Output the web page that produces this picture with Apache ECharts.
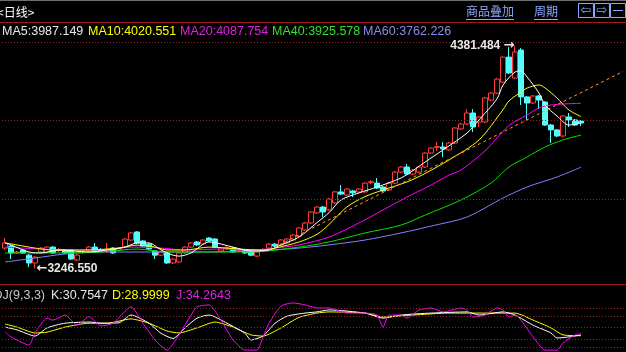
<!DOCTYPE html>
<html>
<head>
<meta charset="utf-8">
<script src="https://cdn.jsdelivr.net/npm/echarts@6/dist/echarts.min.js"></script>
<style>html,body{margin:0;padding:0;background:#000}#main{width:626px;height:352px}</style>
</head>
<body>
<div id="main"></div>
<script>
// daily candles: [open, close, low, high]
const candles = [
  [3350,3376,3340,3401],[3360,3325,3294,3365],[3325,3330,3320,3335],[3340,3325,3320,3345],
  [3314,3274,3253,3320],[3274,3304,3246.55,3309],[3330,3350,3325,3355],[3330,3355,3325,3360],
  [3355,3325,3320,3360],[3338,3342,3330,3350],[3340,3325,3320,3345],[3340,3294,3289,3345],
  [3289,3314,3284,3320],[3328,3332,3320,3340],[3335,3355,3330,3360],[3355,3330,3325,3376],
  [3342,3336,3330,3350],[3338,3342,3325,3376],[3350,3325,3320,3355],[3340,3350,3335,3355],
  [3355,3396,3350,3401],[3391,3427,3386,3432],[3432,3376,3370,3437],[3386,3360,3355,3391],
  [3370,3345,3340,3376],[3335,3314,3294,3340],[3314,3330,3309,3335],[3325,3274,3269,3330],
  [3274,3294,3269,3299],[3279,3325,3274,3330],[3325,3355,3320,3360],[3355,3376,3350,3381],
  [3381,3366,3360,3386],[3371,3391,3365,3396],[3401,3386,3381,3406],[3396,3355,3350,3401],
  [3335,3350,3330,3355],[3348,3352,3340,3360],[3350,3330,3325,3355],[3338,3342,3330,3348],
  [3340,3325,3320,3345],[3335,3314,3309,3340],[3309,3330,3304,3335],[3336,3342,3330,3350],
  [3350,3370,3345,3376],[3370,3360,3355,3376],[3365,3391,3360,3396],[3376,3396,3370,3401],
  [3391,3416,3386,3421],[3411,3452,3406,3457],[3442,3478,3437,3483],[3478,3534,3472,3539],
  [3529,3559,3524,3564],[3559,3534,3508,3564],[3544,3600,3539,3605],[3580,3636,3575,3641],
  [3636,3625,3620,3671],[3620,3651,3615,3656],[3641,3631,3610,3646],[3636,3651,3631,3656],
  [3636,3681,3631,3686],[3684,3688,3676,3696],[3681,3656,3651,3707],[3661,3641,3636,3666],
  [3646,3681,3641,3686],[3681,3737,3676,3743],[3737,3763,3732,3768],[3763,3727,3722,3778],
  [3727,3748,3722,3753],[3737,3763,3732,3768],[3763,3834,3758,3839],[3834,3860,3829,3865],
  [3863,3867,3845,3890],[3865,3855,3814,3890],[3850,3885,3845,3890],[3885,3962,3880,3967],
  [3957,3982,3952,3987],[3982,4038,3977,4058],[4038,3967,3941,4058],[3992,4018,3967,4023],
  [3992,4115,3987,4120],[4104,4140,4099,4145],[4140,4211,4135,4216],[4196,4323,4191,4328],
  [4323,4242,4237,4374],[4216,4349,4211,4381.484],[4359,4120,4079,4369],[4120,4089,4003,4125],
  [4089,4125,4084,4130],[4125,4104,4058,4130],[4094,3977,3972,4099],[3977,3952,3885,3982],
  [3952,3921,3915,3957],[3921,4023,3915,4028],[4018,4003,3967,4038],[4003,3977,3972,4008],
  [3997,3987,3972,4002]
];

// moving averages: [bar index, value]
const ma5 = [[0,3376],[1,3366],[4,3330],[6,3325],[9,3340],[14,3330],[17,3340],[20,3355],[22,3376],[24,3376],
  [26,3340],[28,3314],[29,3309],[31,3325],[34,3381],[38,3355],[41,3335],[44,3340],[46,3366],[49,3406],
  [52,3480],[54,3530],[56,3595],[59,3631],[62,3661],[66,3707],[68,3745],[70,3788],[73,3850],[77,3936],
  [79,4003],[82,4110],[83,4180],[85,4247],[86,4252],[87,4222],[89,4140],[90,4079],[92,4023],[94,3977],[96,3987.149]];
const ma10 = [[0,3376],[2,3366],[5,3350],[8,3340],[13,3340],[19,3350],[22,3365],[25,3355],[27,3340],[30,3340],
  [34,3355],[39,3345],[43,3340],[45,3350],[49,3381],[52,3420],[54,3470],[57,3560],[60,3612],[63,3646],
  [67,3687],[70,3730],[74,3799],[79,3901],[83,4055],[84,4100],[86,4145],[87,4165],[89,4181],[90,4166],
  [92,4115],[94,4053],[96,4020.551]];
const ma20 = [[0,3355],[6,3345],[10,3340],[16,3340],[21,3355],[26,3350],[30,3340],[36,3345],[41,3340],[45,3350],
  [49,3366],[54,3406],[59,3478],[63,3544],[67,3610],[71,3671],[74,3722],[76,3748],[80,3845],[84,3975],
  [87,4028],[89,4064],[91,4079],[93,4084],[96,4087.754]];
const ma40 = [[0,3325],[8,3325],[16,3330],[22,3345],[27,3330],[32,3330],[41,3330],[49,3355],[54,3381],[60,3427],
  [66,3467],[70,3518],[76,3595],[81,3681],[84,3763],[87,3814],[90,3865],[93,3901],[96,3925.578]];
const ma60 = [[0,3279],[5,3299],[10,3320],[16,3330],[24,3330],[32,3330],[41,3335],[49,3350],[54,3366],[60,3391],
  [66,3427],[71,3462],[77,3508],[83,3605],[87,3661],[92,3712],[96,3762.226]];
const trend = [[44,3340],[103,4250]];

// KDJ(9,3,3)
const kLine = [[0,51],[2,44],[5,28],[7,49],[10,61],[14,64],[16,61],[19,62],[21,82],[24,61],[26,35],[28,22],
  [30,49],[32,74],[34,82],[37,61],[40,35],[41,18],[43,28],[45,61],[47,79],[50,87],[52,90],[54,95],[60,87],
  [63,74],[66,82],[71,87],[77,90],[79,82],[83,90],[85,82],[88,56],[91,36],[92,23],[94,26],[96,30.7547]];
const dLine = [[0,59],[2,51],[5,36],[7,38],[10,51],[14,61],[17,61],[21,72],[24,61],[27,41],[29,36],[32,49],
  [35,64],[38,51],[41,31],[43,28],[46,49],[49,76],[52,87],[54,90],[60,87],[63,77],[68,82],[74,87],[79,87],
  [85,87],[88,69],[91,49],[93,31],[96,28.9999]];
const jLine = [[0,39],[1,26],[4,5],[5,36],[7,74],[8,69],[10,82],[12,56],[14,78],[16,54],[18,61],[21,103],
  [23,61],[25,18],[27,-8],[29,31],[31,82],[32,103],[34,108],[36,69],[38,18],[40,-8],[42,-8],[43,26],[44,61],
  [46,105],[48,113],[50,108],[52,100],[54,100],[57,87],[60,87],[62,82],[63,51],[64,82],[66,82],[67,74],
  [69,95],[71,100],[73,90],[76,100],[77,95],[78,77],[80,82],[82,100],[83,95],[84,77],[85,82],[88,26],
  [90,-8],[92,-8],[93,10],[95,31],[96,34.2643]];

const priceLevels = [3600, 4000, 4400];
const kdjLevels = [0, 20, 50, 80, 100];
const maLabels = ['MA5:3987.149', 'MA10:4020.551', 'MA20:4087.754', 'MA40:3925.578', 'MA60:3762.226'];
const kdjLabels = ['K:30.7547', 'D:28.9999', 'J:34.2643'];
const slotCount = 104;
const categories = [];
for (let i = 0; i < slotCount; i++) categories.push(String(i));

const font = '"Liberation Sans", Arial, sans-serif';
const cjk = '"Noto Sans CJK SC", sans-serif';
const maColors = ['#ffffff', '#ffff00', '#ff00ff', '#00e000', '#8080ff'];
const maText = ['#e8e8e8', '#ffff00', '#e020e0', '#30e030', '#8a8ae8'];
const link = '#8aa8ff';
const sepRed = '#a01c1c';

const chart = echarts.init(document.getElementById('main'));

function txt(x, y, text, color, f, align) {
  return { type: 'text', x: x, y: y, style: { text: text, fill: color, font: f, verticalAlign: 'middle', align: align || 'left' } };
}
function hline(y, x1, x2, color) {
  return { type: 'line', shape: { x1: x1, y1: y, x2: x2, y2: y }, style: { stroke: color, lineWidth: 1 } };
}

const maX = [2, 88, 180, 272, 363];
const kdjX = [51, 112, 176];
const graphic = [
  hline(0.5, 0, 626, '#6e6e6e'),
  txt(-3, 12, '<日线>', '#ffffff', '12px ' + cjk),
  txt(466, 11, '商品叠加', link, '12px ' + cjk),
  hline(19.5, 466, 514, link),
  txt(534, 11, '周期', link, '12px ' + cjk),
  hline(19.5, 534, 558, link),
  { type: 'rect', shape: { x: 578.5, y: 3.5, width: 15, height: 14 }, style: { fill: 'none', stroke: link } },
  { type: 'rect', shape: { x: 594.5, y: 3.5, width: 15, height: 14 }, style: { fill: 'none', stroke: link } },
  { type: 'rect', shape: { x: 610.5, y: 3.5, width: 15, height: 14 }, style: { fill: 'none', stroke: link } },
  txt(586, 11, '⇦', link, '13px "DejaVu Sans"', 'center'),
  txt(602, 11, '⇨', link, '13px "DejaVu Sans"', 'center'),
  hline(10.5, 613, 623, link),
  hline(22.5, 0, 626, sepRed),
  hline(284.5, 0, 626, sepRed),
  txt(45, 296, 'KDJ(9,3,3)', '#c8c8c8', '12.5px ' + font, 'right')
];
maLabels.forEach(function (t, i) { graphic.push(txt(maX[i], 32, t, maText[i], '12.5px ' + font)); });
kdjLabels.forEach(function (t, i) { graphic.push(txt(kdjX[i], 296, t, maText[i], '12.5px ' + font)); });

function maSeries(data, color, xi) {
  return {
    type: 'line', data: data, xAxisIndex: xi || 0, yAxisIndex: xi || 0,
    showSymbol: false, smooth: 0.3, connectNulls: true, clip: false, silent: true,
    lineStyle: { color: color, width: 1 }
  };
}
const dotted = { color: '#8f2626', type: [1, 2], width: 1 };
const high = candles[85][3];
const low = candles[5][2];
const arrowRich = { a: { fontFamily: '"DejaVu Sans"', fontSize: 13, color: '#e8e8e8' } };

chart.setOption({
  animation: false,
  backgroundColor: '#000000',
  graphic: graphic,
  grid: [
    { left: 2, top: 42, width: 626, height: 235.5 },
    { left: 2, top: 308, width: 626, height: 39 }
  ],
  xAxis: [
    { type: 'category', data: categories, gridIndex: 0, show: false },
    { type: 'category', data: categories, gridIndex: 1, show: false }
  ],
  yAxis: [
    { type: 'value', gridIndex: 0, min: 3200, max: 4400, show: false, splitLine: { show: false } },
    { type: 'value', gridIndex: 1, min: 0, max: 100, show: false, splitLine: { show: false } }
  ],
  series: [
    {
      type: 'candlestick', data: candles, barWidth: 5, silent: true,
      itemStyle: { color: '#000000', borderColor: '#ff3c3c', color0: '#54fcfc', borderColor0: '#54fcfc', borderWidth: 1 },
      markLine: { silent: true, symbol: ['none', 'none'], label: { show: false }, lineStyle: dotted,
        data: priceLevels.map(function (v) { return { yAxis: v }; }) },
      markPoint: {
        symbol: 'circle', symbolSize: 1, itemStyle: { color: 'rgba(0,0,0,0)' },
        label: { color: '#e8e8e8', fontWeight: 'bold', fontSize: 12, fontFamily: font, rich: arrowRich },
        data: [
          { coord: [85, high], label: { position: 'left', distance: 0, formatter: high.toFixed(3) + ' {a|→}' } },
          { coord: [5, low], label: { position: 'right', distance: 1, formatter: '{a|←}' + low.toFixed(3) } }
        ]
      }
    },
    maSeries(ma60, maColors[4]),
    maSeries(ma40, maColors[3]),
    maSeries(ma20, maColors[2]),
    maSeries(ma10, maColors[1]),
    maSeries(ma5, maColors[0]),
    {
      type: 'line', data: trend, showSymbol: false, silent: true,
      lineStyle: { color: '#ff9a2e', width: 1, type: [3, 3] }
    },
    {
      type: 'line', data: [], xAxisIndex: 1, yAxisIndex: 1, silent: true,
      markLine: { silent: true, symbol: ['none', 'none'], label: { show: false }, lineStyle: dotted,
        data: kdjLevels.map(function (v) { return { yAxis: v }; }) }
    },
    Object.assign(maSeries(dLine, '#ffff00', 1), { smooth: 0.2 }),
    Object.assign(maSeries(kLine, '#ffffff', 1), { smooth: 0.2 }),
    Object.assign(maSeries(jLine, '#ff00ff', 1), { smooth: 0.2 })
  ]
});
</script>
</body>
</html>
